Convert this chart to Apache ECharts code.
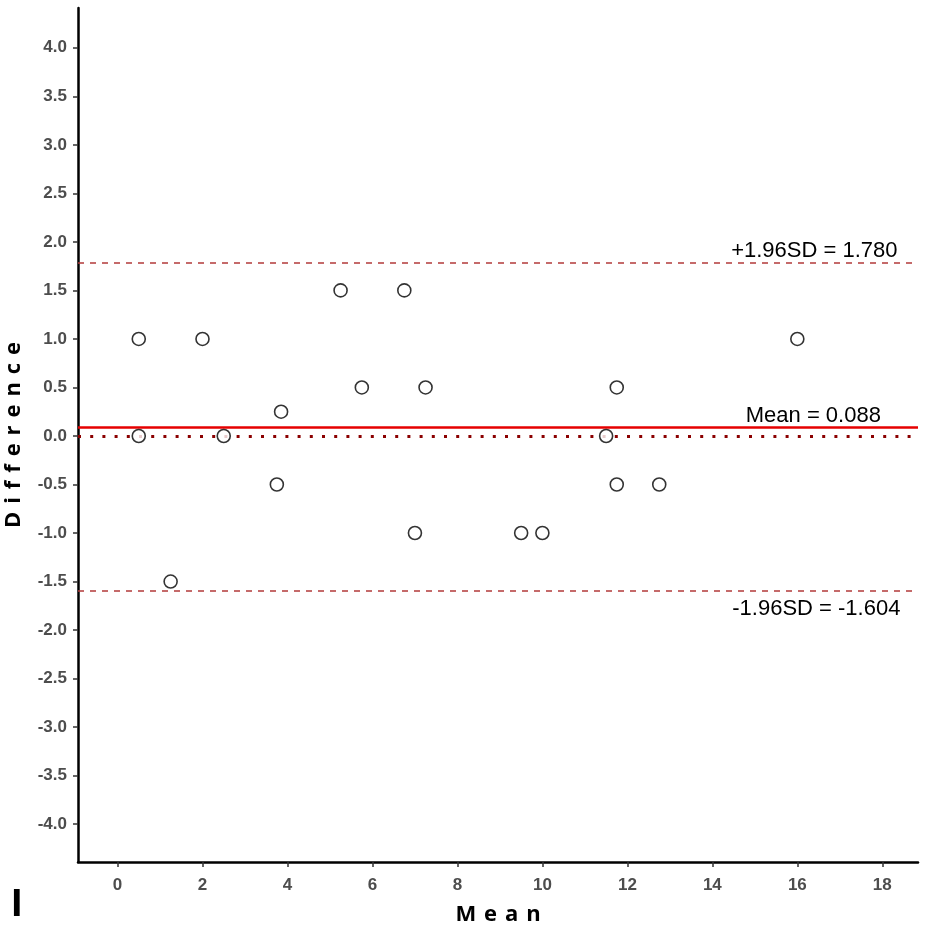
<!DOCTYPE html>
<html>
<head>
<meta charset="utf-8">
<script src="https://cdn.jsdelivr.net/npm/echarts@6/dist/echarts.min.js"></script>
<style>
html,body{margin:0;padding:0;background:#fff;}
#chart{width:927px;height:930px;}
</style>
</head>
<body>
<div id="chart"></div>
<script>
// ---- data ----
var meanValues = [0.5, 0.5, 1.25, 2, 2.5, 3.75, 3.85, 5.25, 5.75, 6.75, 7, 7.25, 9.5, 10, 11.5, 11.75, 11.75, 12.75, 16];
var diffValues = [1, 0, -1.5, 1, 0, -0.5, 0.25, 1.5, 0.5, 1.5, -1, 0.5, -1, -1, 0, 0.5, -0.5, -0.5, 1];
var meanDiff = 0.088;
var upperLoA = 1.780;
var lowerLoA = -1.604;
var zeroLine = 0;
var xTicks = [0, 2, 4, 6, 8, 10, 12, 14, 16, 18];
var yTicks = [-4, -3.5, -3, -2.5, -2, -1.5, -1, -0.5, 0, 0.5, 1, 1.5, 2, 2.5, 3, 3.5, 4];
var annotX = 16.4;
var annotTexts = ['+1.96SD = 1.780', 'Mean = 0.088', '-1.96SD = -1.604'];
var xTitle = 'Mean';
var yTitle = 'Difference';
var panelLabel = 'I';

function spaced(s) { return s.split('').join(' \u200A'); }

var points = meanValues.map(function (m, i) { return [m, diffValues[i]]; });

var chart = echarts.init(document.getElementById('chart'), null, {renderer: 'canvas'});
var tickLabelStyle = {color: '#4d4d4d', fontFamily: 'Liberation Sans', fontWeight: 'bold', fontSize: 17};

chart.setOption({
  backgroundColor: '#ffffff',
  animation: false,
  grid: {left: 78, right: 9, top: 8, bottom: 68, containLabel: false, outerBoundsMode: 'none'},
  xAxis: {
    type: 'value',
    min: -0.93, max: 18.84,
    name: spaced(xTitle),
    nameLocation: 'middle',
    nameGap: 42,
    nameTextStyle: {fontFamily: 'Open Sans', fontWeight: 'bold', fontSize: 22, color: '#000'},
    axisLine: {show: true, onZero: false, lineStyle: {color: '#000', width: 2.5}},
    axisTick: {show: true, length: 5, lineStyle: {color: '#333', width: 1.5}, customValues: xTicks},
    axisLabel: Object.assign({margin: 15, customValues: xTicks}, tickLabelStyle),
    splitLine: {show: false}
  },
  yAxis: {
    type: 'value',
    min: -4.39, max: 4.41,
    name: spaced(yTitle),
    nameLocation: 'middle',
    nameRotate: 90,
    nameGap: 53,
    nameTextStyle: {fontFamily: 'Open Sans', fontWeight: 'bold', fontSize: 22, color: '#000'},
    axisLine: {show: true, onZero: false, lineStyle: {color: '#000', width: 2.5}},
    axisTick: {show: true, length: 5, lineStyle: {color: '#333', width: 1.5}, customValues: yTicks},
    axisLabel: Object.assign({margin: 11, customValues: yTicks, formatter: function (v) { return v.toFixed(1); }}, tickLabelStyle),
    splitLine: {show: false}
  },
  series: [
    {
      type: 'scatter',
      data: points,
      symbol: 'circle',
      symbolSize: 13,
      itemStyle: {color: '#fff', borderColor: '#000', borderWidth: 1.6},
      z: 5,
      markLine: {
        silent: true,
        symbol: 'none',
        label: {show: false},
        data: [
          {yAxis: upperLoA, lineStyle: {color: '#b23a3a', type: [6, 6], width: 1.5}},
          {yAxis: lowerLoA, lineStyle: {color: '#b23a3a', type: [6, 6], width: 1.5}},
          {yAxis: zeroLine, lineStyle: {color: '#8b0000', type: [3, 9.2], width: 3}},
          {yAxis: meanDiff, lineStyle: {color: '#e60000', type: 'solid', width: 2.6}}
        ]
      },
      markPoint: {
        silent: true,
        symbol: 'circle',
        symbolSize: 0,
        label: {show: true, position: 'inside', color: '#000', fontFamily: 'Liberation Sans', fontSize: 22},
        data: [
          {coord: [annotX, upperLoA], value: annotTexts[0], label: {formatter: annotTexts[0], offset: [0, -12]}},
          {coord: [annotX, meanDiff], value: annotTexts[1], label: {formatter: annotTexts[1], offset: [-1, -11]}},
          {coord: [annotX, lowerLoA], value: annotTexts[2], label: {formatter: annotTexts[2], offset: [2, 17]}}
        ]
      }
    }
  ],
  graphic: [
    {type: 'text', left: 10.5, top: 886, style: {text: panelLabel, fontFamily: 'Open Sans', fontWeight: 'bold', fontSize: 38, fill: '#000'}}
  ]
});
</script>
</body>
</html>
